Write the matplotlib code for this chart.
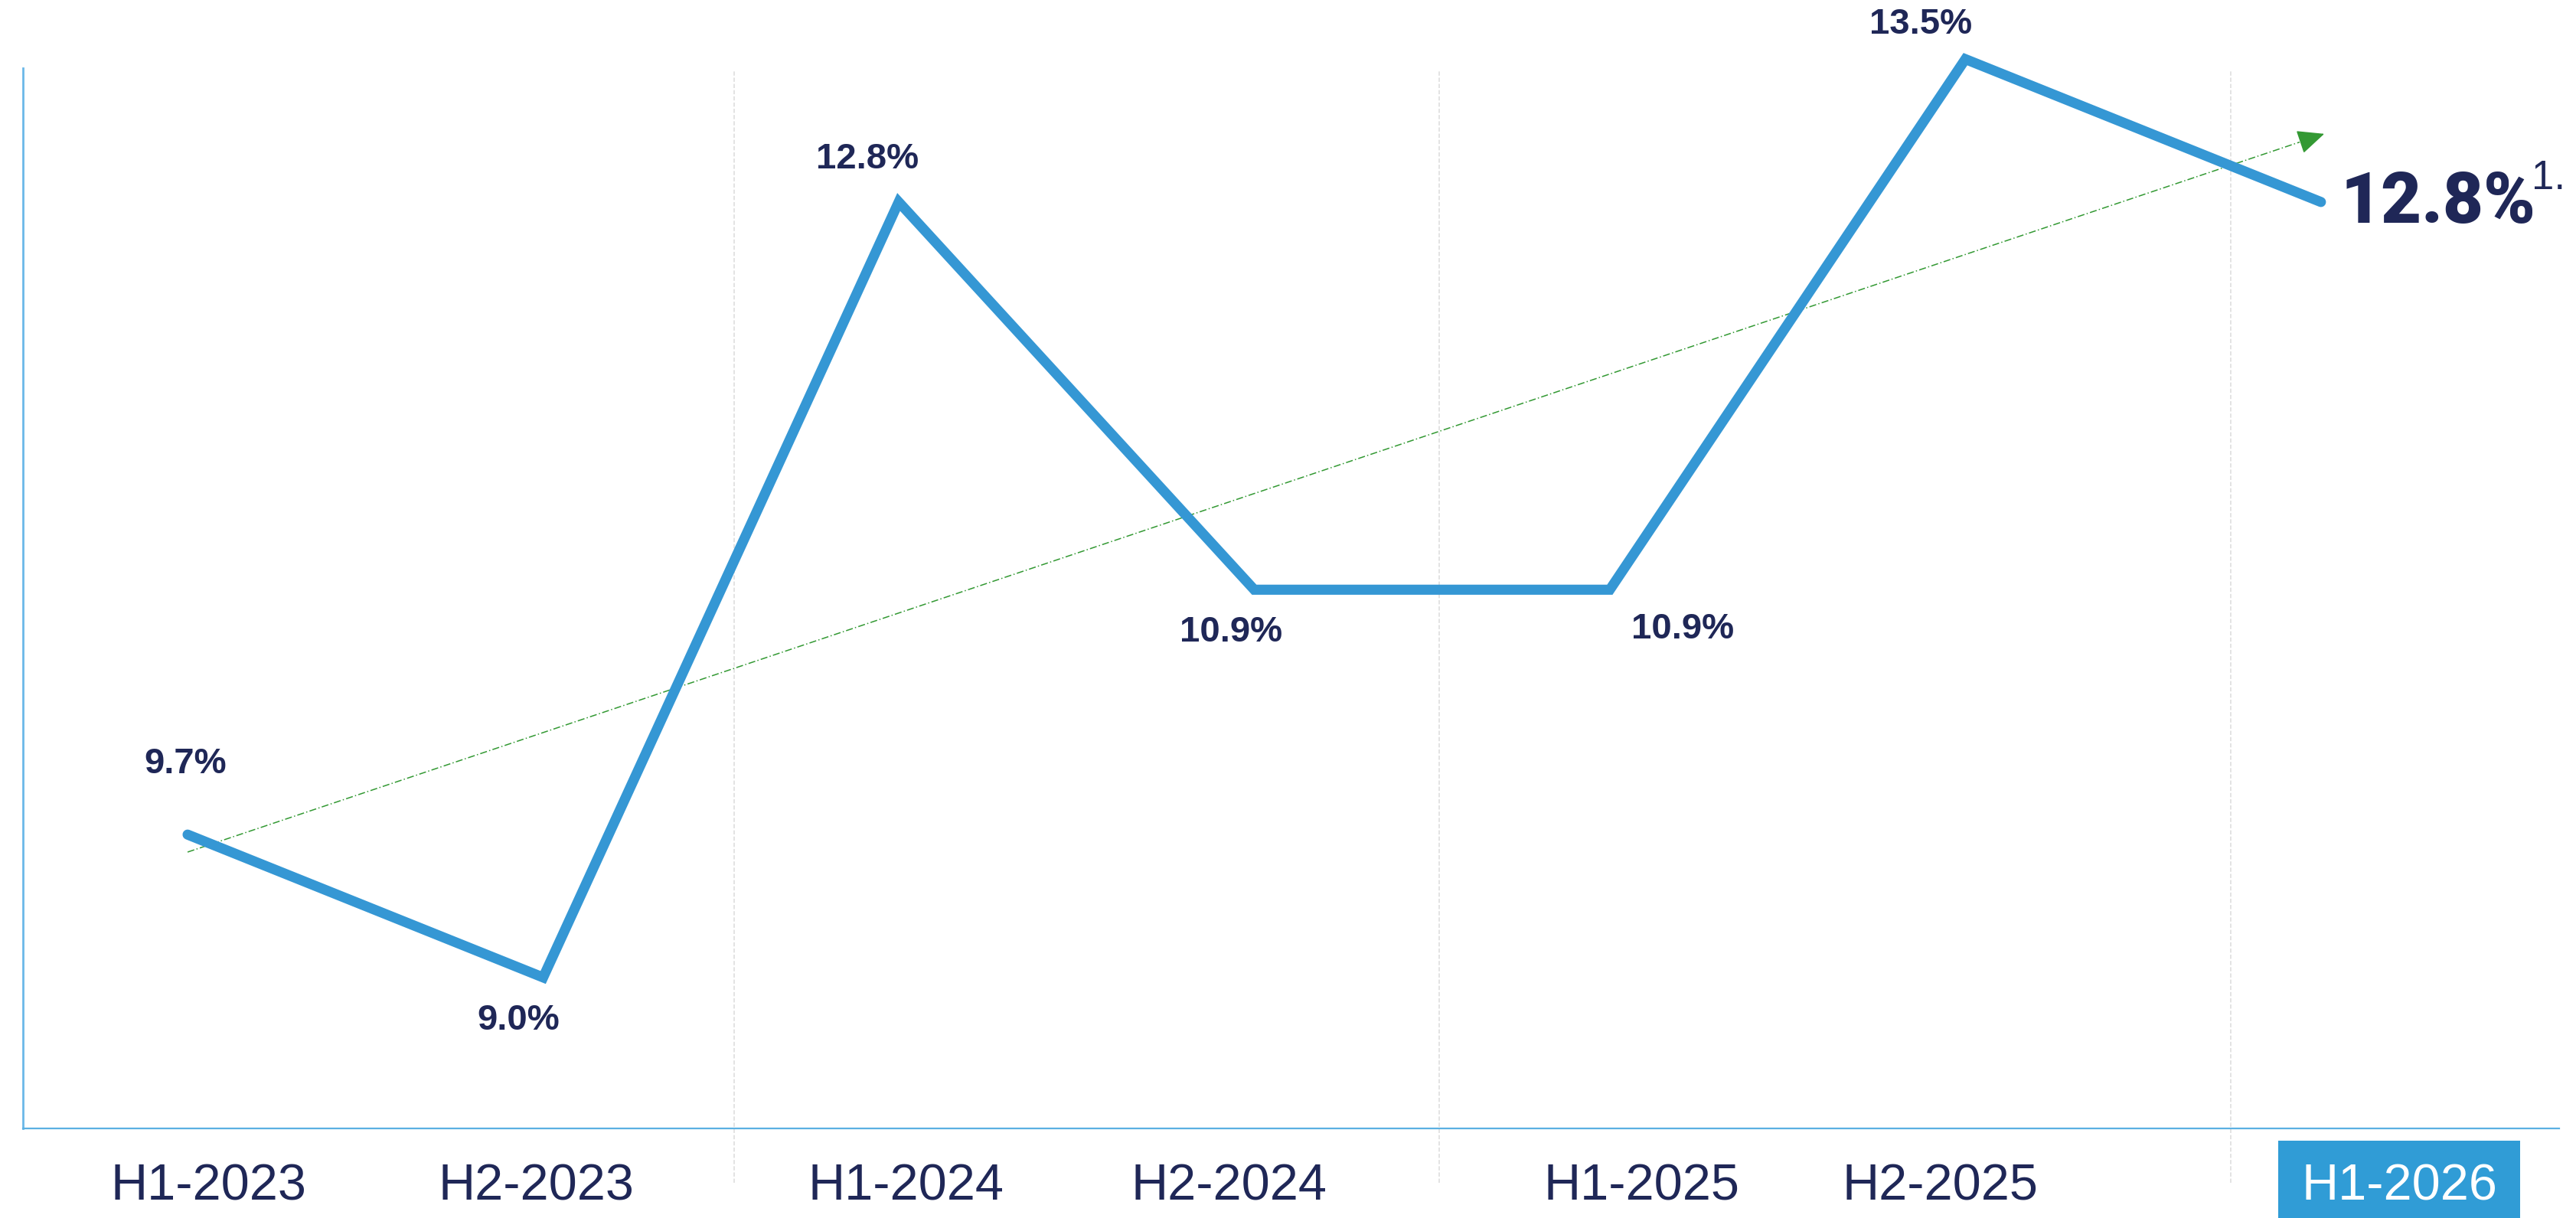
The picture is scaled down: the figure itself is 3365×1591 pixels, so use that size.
import numpy as np
from matplotlib import pyplot as plt

periods = ['H1-2023', 'H2-2023', 'H1-2024', 'H2-2024', 'H1-2025', 'H2-2025', 'H1-2026']
values = [9.7, 9.0, 12.8, 10.9, 10.9, 13.5, 12.8]
value_labels = ['9.7%', '9.0%', '12.8%', '10.9%', '10.9%', '13.5%', '12.8%']
footnote = '1.'

navy = '#1F2757'
blue = '#3597D4'
green = '#339933'

# layout bits (pixel offsets of labels, tick label spots, separators)
label_offsets = [(-3, 92), (-32, -56), (-41, 56), (-30, -56), (95, -52), (-58, 45)]
tick_spots = [0.06, 0.98, 2.02, 2.93, 4.09, 4.93, 6.22]
separators = [1.537, 3.52, 5.746]

fig = plt.figure(figsize=(33.65, 15.91), dpi=100)
ax = fig.add_axes([30 / 3365, 1 - 1474 / 1591, (3343 - 30) / 3365, (1474 - 89) / 1591])

x = np.arange(len(values))
ax.set_xlim(-0.463, 6.67)
ax.set_ylim(8.26, 13.456)

px = 0.72  # points per pixel at dpi 100

# light dashed separators
ax.vlines(separators, 7.995, 13.445, colors='#E0E0E0', linewidth=1.3,
          linestyles=(0, (3, 1.5)), clip_on=False, zorder=1)

# trend line from a linear fit
slope, icpt = np.polyfit(x, values, 1)
tx = np.array([x[0], x[-1] - 0.06])
ax.plot(tx, icpt + slope * tx, color=green, linewidth=1.1,
        linestyle=(0, (6, 2, 1, 2)), zorder=2, clip_on=False)
ax.annotate('', xy=(x[-1] + 0.015, icpt + slope * (x[-1] + 0.015)),
            xytext=(x[-1] - 0.06, icpt + slope * (x[-1] - 0.06)),
            arrowprops=dict(arrowstyle='-|>,head_length=1.0,head_width=0.45',
                            mutation_scale=22, color=green, lw=1.1),
            annotation_clip=False, zorder=2)

ax.plot(x, values, color=blue, linewidth=9.5, solid_capstyle='round',
        solid_joinstyle='miter', clip_on=False, zorder=3)

for i in range(len(values) - 1):
    dx, dy = label_offsets[i]
    ax.annotate(value_labels[i], (x[i], values[i]), xytext=(dx * px, dy * px),
                textcoords='offset points', ha='center', va='center',
                fontsize=34, fontweight='bold', color=navy,
                family='Liberation Sans', annotation_clip=False)

# highlighted last value
ax.annotate(value_labels[-1], (x[-1], values[-1]), xytext=(26 * px, -2 * px),
            textcoords='offset points', ha='left', va='center',
            fontsize=66, fontweight='black', color=navy, family='Roboto',
            annotation_clip=False)
ax.annotate(footnote, (x[-1], values[-1]), xytext=(275 * px, 17 * px),
            textcoords='offset points', ha='left', va='baseline',
            fontsize=38, color=navy, family='Liberation Sans',
            annotation_clip=False)

ax.set_xticks(tick_spots)
ax.set_xticklabels(periods, fontsize=48, color=navy, family='Liberation Sans')
ax.tick_params(axis='x', length=0, pad=33)
ax.set_yticks([])
last = ax.get_xticklabels()[-1]
last.set_color('white')
last.set_bbox(dict(boxstyle='square,pad=0.45', facecolor='#309CD6', edgecolor='none'))

for s in ['top', 'right']:
    ax.spines[s].set_visible(False)
ax.spines['left'].set_color('#6BB8E8')
ax.spines['bottom'].set_color('#5BB0E2')
ax.spines['left'].set_linewidth(2)
ax.spines['bottom'].set_linewidth(1.6)

fig.savefig('out.png', dpi=100)
